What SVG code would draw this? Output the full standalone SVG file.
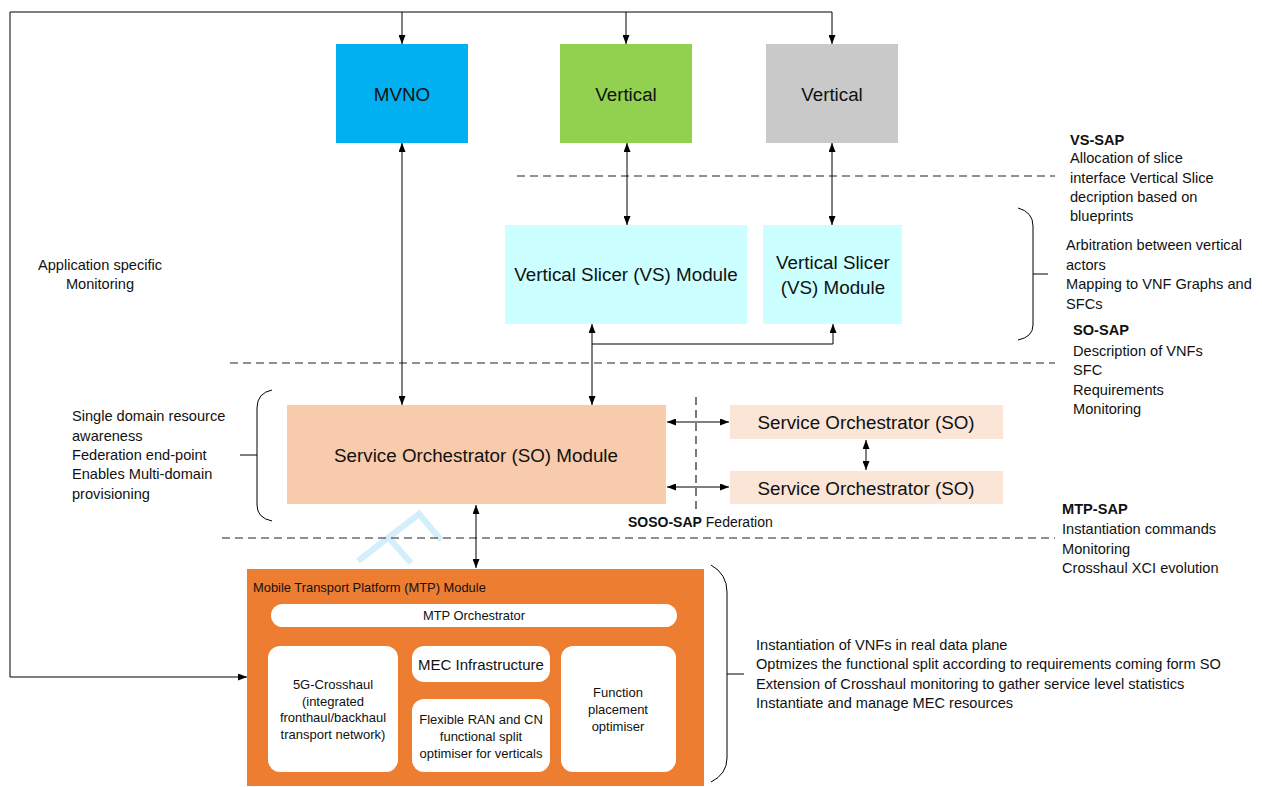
<svg xmlns="http://www.w3.org/2000/svg" width="1262" height="787" viewBox="0 0 1262 787">
<defs>
<marker id="ah" markerUnits="userSpaceOnUse" markerWidth="9" markerHeight="7" viewBox="0 0 9 7" refX="9" refY="3.5" orient="auto-start-reverse"><path d="M0,0 L9,3.5 L0,7 z" fill="#000"/></marker>
<style>
text{font-family:"Liberation Sans",Arial,sans-serif;fill:#111;dominant-baseline:central}
.t13{font-size:14.6px}
.t17{font-size:18.8px}
.t12{font-size:12.9px}
.t11{font-size:13px}
.b{font-weight:bold}
.c{text-anchor:middle}
.ln{stroke:#000;stroke-width:1;fill:none}
.arr{stroke:#000;stroke-width:1;fill:none;marker-end:url(#ah)}
.arr2{stroke:#000;stroke-width:1;fill:none;marker-end:url(#ah);marker-start:url(#ah)}
.dash{stroke:#222;stroke-width:1.2;stroke-dasharray:8 5;fill:none}
.brace{stroke:#000;stroke-width:1;fill:none}
.inner{fill:#fff}
</style>
</defs>
<rect width="1262" height="787" fill="#fff"/>

<!-- watermark -->
<g id="watermark" stroke="#d5eefb" stroke-width="6" fill="none">
<polyline points="358,561 419,514 441,540"/>
<line x1="389" y1="538" x2="411" y2="563"/>
</g>

<!-- dashed separators -->
<g id="separators">
<line class="dash" x1="517" y1="176" x2="1055" y2="176"/>
<line class="dash" x1="230" y1="363" x2="1055" y2="363"/>
<line class="dash" x1="222" y1="538" x2="1055" y2="538"/>
<line class="dash" x1="696" y1="397" x2="696" y2="513" stroke-dasharray="6 4"/>
</g>

<!-- braces -->
<g id="braces">
<path class="brace" d="M272,390 Q257,393 257,408 L257,505 Q257,518 272,521 M240,455 L257,455"/>
<path class="brace" d="M1018,208 Q1033,212 1033,226 L1033,325 Q1033,337 1018,340 M1033,274 L1048,274"/>
<path class="brace" d="M711,565 Q727,574 727,592 L727,758 Q727,774 711,782 M727,674 L744,674"/>
</g>

<!-- nodes -->
<g id="mvno"><rect x="336" y="44" width="132" height="99" fill="#00B0F0"/><text class="t17 c" x="402" y="94">MVNO</text></g>
<g id="vertical1"><rect x="560" y="44" width="132" height="99" fill="#92D050"/><text class="t17 c" x="626" y="94">Vertical</text></g>
<g id="vertical2"><rect x="766" y="44" width="132" height="99" fill="#C9C9C9"/><text class="t17 c" x="832" y="94">Vertical</text></g>

<g id="vs1"><rect x="505" y="225" width="242" height="99" fill="#CCFFFF"/><text class="t17 c" x="626" y="274">Vertical Slicer (VS) Module</text></g>
<g id="vs2"><rect x="763" y="225" width="139" height="99" fill="#CCFFFF"/><text class="t17 c" x="833" y="262">Vertical Slicer</text><text class="t17 c" x="833" y="287">(VS) Module</text></g>

<g id="so"><rect x="287" y="405" width="379" height="99" fill="#F8CBAD"/><text class="t17 c" x="476" y="455">Service Orchestrator (SO) Module</text></g>
<g id="so2"><rect x="730" y="405" width="273" height="34" fill="#FBE5D6"/><text class="t17 c" x="866" y="422">Service Orchestrator (SO)</text></g>
<g id="so3"><rect x="730" y="471" width="273" height="33" fill="#FBE5D6"/><text class="t17 c" x="866" y="488">Service Orchestrator (SO)</text></g>

<g id="mtp">
<rect x="247" y="569" width="457" height="217" fill="#ED7D31"/>
<text class="t12" x="253" y="587">Mobile Transport Platform (MTP) Module</text>
<rect class="inner" x="271" y="604" width="406" height="23" rx="11.5"/>
<text class="t12 c" x="474" y="615.5">MTP Orchestrator</text>
<rect class="inner" x="268" y="646" width="130" height="126" rx="12"/>
<text class="t11 c" x="333" y="684">5G-Crosshaul</text>
<text class="t11 c" x="333" y="701">(integrated</text>
<text class="t11 c" x="333" y="717">fronthaul/backhaul</text>
<text class="t11 c" x="333" y="734">transport network)</text>
<rect class="inner" x="412" y="646" width="138" height="36" rx="12"/>
<text class="c" style="font-size:15px" x="481" y="664">MEC Infrastructure</text>
<rect class="inner" x="412" y="699" width="138" height="73" rx="12"/>
<text class="t11 c" x="481" y="719">Flexible RAN and CN</text>
<text class="t11 c" x="481" y="736">functional split</text>
<text class="t11 c" x="481" y="753">optimiser for verticals</text>
<rect class="inner" x="561" y="646" width="115" height="126" rx="12"/>
<text class="t11 c" x="618" y="692">Function</text>
<text class="t11 c" x="618" y="709">placement</text>
<text class="t11 c" x="618" y="726">optimiser</text>
</g>

<!-- connectors -->
<g id="connectors">
<path class="ln" d="M832,12 L10,12 L10,677"/>
<path class="arr" d="M10,677 L247,677"/>
<path class="arr" d="M402,12 L402,44"/>
<path class="arr" d="M626,12 L626,44"/>
<path class="arr" d="M832,12 L832,44"/>
<path class="arr2" d="M402,143 L402,405"/>
<path class="arr2" d="M627,143 L627,225"/>
<path class="arr2" d="M832,143 L832,225"/>
<path class="arr2" d="M592,405 L592,324"/>
<path class="arr" d="M592,344 L833,344 L833,324"/>
<path class="arr2" d="M667,422 L729,422"/>
<path class="arr2" d="M667,487 L729,487"/>
<path class="arr2" d="M866,440 L866,470"/>
<path class="arr2" d="M476,505 L476,568"/>
</g>

<!-- annotations -->
<g id="annotations">
<text class="t13 c" x="100" y="265">Application specific</text>
<text class="t13 c" x="100" y="284">Monitoring</text>
<text class="t13" x="72" y="416">Single domain resource</text>
<text class="t13" x="72" y="436">awareness</text>
<text class="t13" x="72" y="455">Federation end-point</text>
<text class="t13" x="72" y="474">Enables Multi-domain</text>
<text class="t13" x="72" y="494">provisioning</text>

<text class="t13 b" x="1070" y="140">VS-SAP</text>
<text class="t13" x="1070" y="158">Allocation of slice</text>
<text class="t13" x="1070" y="178">interface Vertical Slice</text>
<text class="t13" x="1070" y="197">decription based on</text>
<text class="t13" x="1070" y="216">blueprints</text>

<text class="t13" x="1066" y="245">Arbitration between vertical</text>
<text class="t13" x="1066" y="265">actors</text>
<text class="t13" x="1066" y="284">Mapping to VNF Graphs and</text>
<text class="t13" x="1066" y="304">SFCs</text>

<text class="t13 b" x="1073" y="330">SO-SAP</text>
<text class="t13" x="1073" y="351">Description of VNFs</text>
<text class="t13" x="1073" y="370">SFC</text>
<text class="t13" x="1073" y="390">Requirements</text>
<text class="t13" x="1073" y="409">Monitoring</text>

<text style="font-size:14px" x="628" y="522"><tspan class="b">SOSO-SAP</tspan> Federation</text>

<text class="t13 b" x="1062" y="509">MTP-SAP</text>
<text class="t13" x="1062" y="529">Instantiation commands</text>
<text class="t13" x="1062" y="549">Monitoring</text>
<text class="t13" x="1062" y="568">Crosshaul XCI evolution</text>

<text class="t13" x="756" y="645">Instantiation of VNFs in real data plane</text>
<text class="t13" x="756" y="664">Optmizes the functional split according to requirements coming form SO</text>
<text class="t13" x="756" y="684">Extension of Crosshaul monitoring to gather service level statistics</text>
<text class="t13" x="756" y="703">Instantiate and manage MEC resources</text>
</g>
</svg>
